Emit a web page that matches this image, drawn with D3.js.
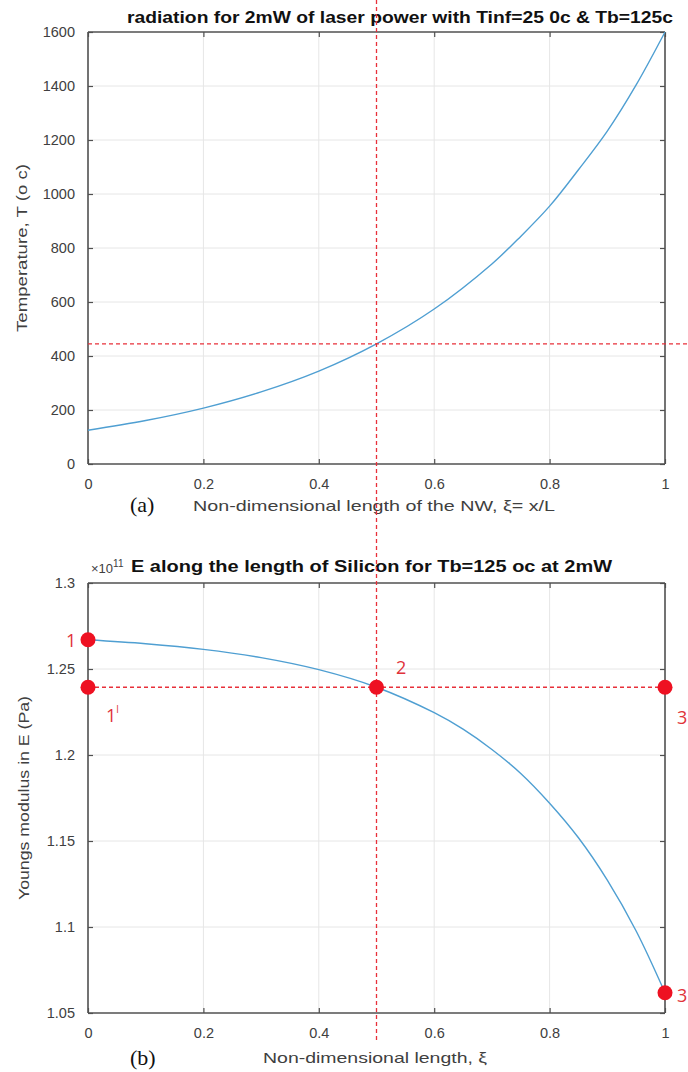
<!DOCTYPE html>
<html><head><meta charset="utf-8">
<script src="https://cdn.jsdelivr.net/npm/d3@7"></script>
<style>body{margin:0;background:#fff}svg{display:block}</style>
</head><body><svg id="c" width="688" height="1072" font-family="Liberation Sans, Arial, sans-serif"></svg>
<script>
// ---- data ----
const xi = [0, 0.1, 0.2, 0.3, 0.4, 0.5, 0.6, 0.7, 0.75, 0.8, 0.85, 0.9, 0.95, 1.0];
const tempT = [125, 161, 207, 267, 344, 445, 574, 741, 843, 955, 1090, 1233, 1404, 1600];
const xiE = [0, 0.1, 0.2, 0.3, 0.4, 0.5, 0.6, 0.65, 0.7, 0.75, 0.8, 0.85, 0.9, 0.95, 1.0];
const youngE = [1.2670, 1.2647, 1.2614, 1.2566, 1.2496, 1.2394, 1.2246, 1.2150, 1.2032, 1.1893, 1.1720, 1.1519, 1.1273, 1.0977, 1.0618];
const xTicks = [0, 0.2, 0.4, 0.6, 0.8, 1];
const xTickLabels = ["0", "0.2", "0.4", "0.6", "0.8", "1"];
const tTicks = [0, 200, 400, 600, 800, 1000, 1200, 1400, 1600];
const eTicks = [1.05, 1.1, 1.15, 1.2, 1.25, 1.3];
const eTickLabels = ["1.05", "1.1", "1.15", "1.2", "1.25", "1.3"];
const markT = 445;            // horizontal marker in (a)
const markXi = 0.5;           // vertical marker
const points = [             // red dots in (b)
  {x: 0, y: 1.2670},
  {x: 0, y: 1.2394},
  {x: 0.5, y: 1.2394},
  {x: 1, y: 1.2394},
  {x: 1, y: 1.0618}
];

const svg = d3.select("#c");
svg.append("rect").attr("width", 688).attr("height", 1072).attr("fill", "#fff");

const RED = "#e8303a", CURVE = "#4f9fd2", AX = "#505050", TXT = "#404040";

function panel(y, ticks, tickLabels, top, bottom) {
  const x = d3.scaleLinear().domain([0, 1]).range([88, 665]);
  const yy = d3.scaleLinear().domain(y).range([bottom, top]);
  const g = svg.append("g");
  g.selectAll(".gx").data(xTicks.slice(1, -1)).join("line")
    .attr("x1", d => x(d)).attr("x2", d => x(d)).attr("y1", top).attr("y2", bottom)
    .attr("stroke", "#e6e6e6").attr("stroke-width", 1);
  g.selectAll(".gy").data(ticks.slice(1, -1)).join("line")
    .attr("y1", d => yy(d)).attr("y2", d => yy(d)).attr("x1", 88).attr("x2", 665)
    .attr("stroke", "#e6e6e6").attr("stroke-width", 1);
  const fmtX = (d, i) => tickLabels.x[i];
  const fmtY = (d, i) => tickLabels.y[i];
  const axB = g.append("g").attr("transform", `translate(0,${bottom})`)
    .call(d3.axisBottom(x).tickValues(xTicks).tickSize(-5).tickPadding(15).tickFormat(fmtX));
  const axT = g.append("g").attr("transform", `translate(0,${top})`)
    .call(d3.axisTop(x).tickValues(xTicks).tickSize(-5).tickFormat(""));
  const axL = g.append("g").attr("transform", `translate(88,0)`)
    .call(d3.axisLeft(yy).tickValues(ticks).tickSize(-5).tickPadding(13).tickFormat(fmtY));
  const axR = g.append("g").attr("transform", `translate(665,0)`)
    .call(d3.axisRight(yy).tickValues(ticks).tickSize(-5).tickFormat(""));
  [axB, axT, axL, axR].forEach(a => {
    a.attr("font-family", null).attr("font-size", null);
    a.select(".domain").attr("stroke", AX).attr("stroke-width", 1.6);
    a.selectAll(".tick line").attr("stroke", AX).attr("stroke-width", 1.2);
    a.selectAll("text").attr("fill", TXT).attr("font-size", 14.5);
  });
  axB.selectAll(".domain").attr("d", `M88,0H665`);
  axT.selectAll(".domain").attr("d", `M88,0H665`);
  axL.selectAll(".domain").attr("d", `M0,${top}V${bottom}`);
  axR.selectAll(".domain").attr("d", `M0,${top}V${bottom}`);
  return {x, y: yy, g};
}

// ---------- panel (a) ----------
const A = panel([0, 1600], tTicks, {x: xTickLabels, y: tTicks.map(String)}, 32, 464);
A.g.append("path").datum(xi.map((d, i) => [d, tempT[i]]))
  .attr("d", d3.line().x(d => A.x(d[0])).y(d => A.y(d[1])).curve(d3.curveCatmullRom))
  .attr("fill", "none").attr("stroke", CURVE).attr("stroke-width", 1.4);
svg.append("text").attr("x", 127).attr("y", 23).attr("font-size", 16.5).attr("font-weight", "bold")
  .attr("fill", "#111").attr("textLength", 546).attr("lengthAdjust", "spacingAndGlyphs")
  .text("radiation for 2mW of laser power with Tinf=25 0c & Tb=125c");
svg.append("text").attr("transform", "translate(27,248) rotate(-90)").attr("text-anchor", "middle")
  .attr("font-size", 15).attr("fill", TXT).attr("textLength", 168).attr("lengthAdjust", "spacingAndGlyphs")
  .text("Temperature, T (o c)");
svg.append("text").attr("x", 193).attr("y", 511).attr("font-size", 15).attr("fill", TXT)
  .attr("textLength", 362).attr("lengthAdjust", "spacingAndGlyphs")
  .text("Non-dimensional length of the NW,  ξ= x/L");
svg.append("text").attr("x", 130).attr("y", 512).attr("font-size", 22)
  .attr("font-family", "Liberation Serif, Times New Roman, serif").attr("fill", "#111").text("(a)");

// ---------- panel (b) ----------
const B = panel([1.05, 1.3], eTicks, {x: xTickLabels, y: eTickLabels}, 583, 1013);
B.g.append("path").datum(xiE.map((d, i) => [d, youngE[i]]))
  .attr("d", d3.line().x(d => B.x(d[0])).y(d => B.y(d[1])).curve(d3.curveCatmullRom))
  .attr("fill", "none").attr("stroke", CURVE).attr("stroke-width", 1.4);
const t2 = svg.append("text").attr("x", 91).attr("y", 573);
t2.append("tspan").attr("font-size", 13).attr("fill", TXT).text("×10");
t2.append("tspan").attr("font-size", 10).attr("fill", TXT).attr("dy", -6).text("11");
svg.append("text").attr("x", 131).attr("y", 572).attr("font-size", 16.5).attr("font-weight", "bold")
  .attr("fill", "#111").attr("textLength", 481).attr("lengthAdjust", "spacingAndGlyphs")
  .text("E along the length of Silicon for Tb=125 oc at 2mW");
svg.append("text").attr("transform", "translate(29,798) rotate(-90)").attr("text-anchor", "middle")
  .attr("font-size", 15).attr("fill", TXT).attr("textLength", 204).attr("lengthAdjust", "spacingAndGlyphs")
  .text("Youngs modulus in E (Pa)");
svg.append("text").attr("x", 263).attr("y", 1063).attr("font-size", 15).attr("fill", TXT)
  .attr("textLength", 224).attr("lengthAdjust", "spacingAndGlyphs")
  .text("Non-dimensional length,  ξ");
svg.append("text").attr("x", 130).attr("y", 1065).attr("font-size", 22)
  .attr("font-family", "Liberation Serif, Times New Roman, serif").attr("fill", "#111").text("(b)");

// ---------- red dashed markers ----------
const dash = "4,3";
svg.append("line").attr("x1", A.x(markXi)).attr("x2", A.x(markXi)).attr("y1", 0).attr("y2", 1040)
  .attr("stroke", RED).attr("stroke-width", 1.3).attr("stroke-dasharray", dash);
svg.append("line").attr("x1", A.x(0)).attr("x2", 688).attr("y1", A.y(markT)).attr("y2", A.y(markT))
  .attr("stroke", RED).attr("stroke-width", 1.3).attr("stroke-dasharray", dash);
svg.append("line").attr("x1", B.x(0)).attr("x2", B.x(1)).attr("y1", B.y(points[1].y)).attr("y2", B.y(points[1].y))
  .attr("stroke", RED).attr("stroke-width", 1.3).attr("stroke-dasharray", dash);

svg.selectAll(".dot").data(points).join("circle")
  .attr("cx", d => B.x(d.x)).attr("cy", d => B.y(d.y)).attr("r", 7.5).attr("fill", "#ee1122");

// point labels
const lab = (x, y, t) => svg.append("text").attr("x", x).attr("y", y).attr("font-size", 18)
  .attr("fill", "#e0323a").attr("font-family", "Open Sans, Liberation Sans, sans-serif").text(t);
lab(66, B.y(points[0].y) + 7, "1");
const l1 = lab(106, B.y(points[1].y) + 35, "1");
l1.append("tspan").attr("font-size", 10).attr("dy", -9).text("l");
lab(396, B.y(points[2].y) - 13, "2");
lab(677, B.y(points[3].y) + 37, "3");
lab(677, B.y(points[4].y) + 9, "3");
</script></body></html>
